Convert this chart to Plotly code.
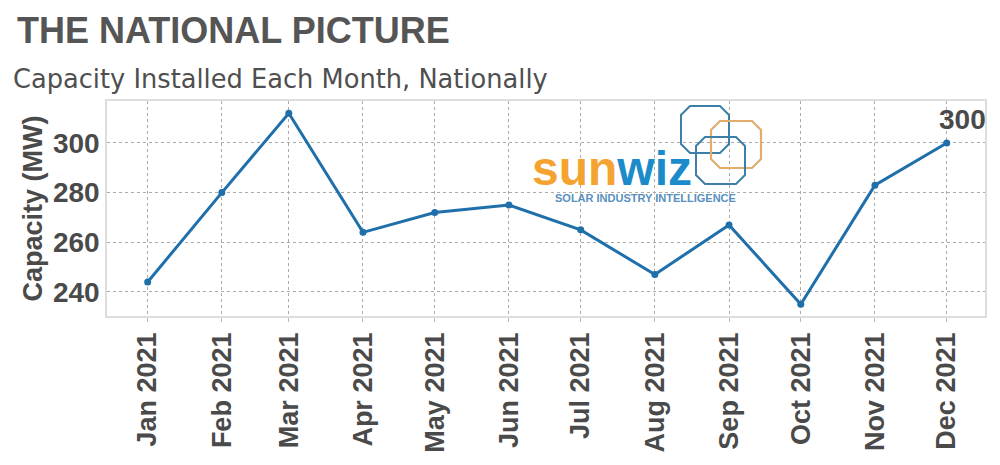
import plotly.graph_objects as go

months = ["2021-01-01", "2021-02-01", "2021-03-01", "2021-04-01", "2021-05-01", "2021-06-01",
          "2021-07-01", "2021-08-01", "2021-09-01", "2021-10-01", "2021-11-01", "2021-12-01"]
capacity = [244, 280, 312, 264, 272, 275, 265, 247, 267, 235, 283, 300]
y_ticks = [240, 260, 280, 300]

# the page body has an 8px margin, so the figure is drawn 8px in from the top-left
OFF = 8
W, H = 1000 - OFF, 465 - OFF
L, R, T, B = 107 - OFF, 15, 101 - OFF, 149
PW, PH = W - L - R, H - T - B


def px(x):
    return (x - OFF - L) / PW


def py(y):
    return (H - B - (y - OFF)) / PH


LINE = "#1f6fab"
TXT = "#4a4a4a"

fig = go.Figure()
fig.add_trace(go.Scatter(
    x=months, y=capacity, mode="lines+markers",
    line=dict(color=LINE, width=3),
    marker=dict(color=LINE, size=7),
    hoverinfo="x+y", showlegend=False,
))

shapes = []


def octagon(x0, y0, x1, y1, c, color, width):
    pts = [(x0 + c, y0), (x1 - c, y0), (x1, y0 + c), (x1, y1 - c),
           (x1 - c, y1), (x0 + c, y1), (x0, y1 - c), (x0, y0 + c)]
    d = "M " + " L ".join(f"{px(a):.5f},{py(b):.5f}" for a, b in pts) + " Z"
    shapes.append(dict(type="path", xref="paper", yref="paper", path=d,
                       line=dict(color=color, width=width), layer="above"))


octagon(681, 106, 729, 153, 9, "#3d7fa6", 2)
octagon(711, 121, 761, 168, 9, "#e3ad6e", 2.2)
octagon(696, 137, 745, 184, 9, "#3d7fa6", 2)

annotations = [
    dict(text="<b>THE NATIONAL PICTURE</b>", x=px(15), y=py(53), xref="paper", yref="paper",
         xanchor="left", yanchor="bottom", showarrow=False,
         font=dict(family="Liberation Sans, Arial", size=36, color="#555555")),
    dict(text="Capacity Installed Each Month, Nationally", x=px(11), y=py(96),
         xref="paper", yref="paper", xanchor="left", yanchor="bottom", showarrow=False,
         font=dict(family="DejaVu Sans", size=25.7, color="#4f4f4f")),
    dict(text="<b>300</b>", x=months[-1], y=capacity[-1], xref="x", yref="y",
         xanchor="center", yanchor="bottom", yshift=6, xshift=16, showarrow=False,
         font=dict(family="Liberation Sans, Arial", size=28, color=TXT)),
    dict(text="<b><span style='color:#f4a331'>sun</span><span style='color:#1b8bc9'>wiz</span></b>",
         x=px(530), y=py(197), xref="paper", yref="paper", xanchor="left", yanchor="bottom",
         showarrow=False, font=dict(family="Liberation Sans, Arial", size=48)),
    dict(text="<b>SOLAR INDUSTRY INTELLIGENCE</b>", x=px(645), y=py(198), xref="paper", yref="paper",
         xanchor="center", yanchor="middle", showarrow=False,
         font=dict(family="Liberation Sans, Arial", size=11, color="#5890c0")),
]

fig.update_layout(
    width=W, height=H,
    margin=dict(l=L, r=R, t=T, b=B),
    paper_bgcolor="white", plot_bgcolor="white",
    shapes=shapes, annotations=annotations,
    font=dict(family="Liberation Sans, Arial", color=TXT),
)
fig.update_xaxes(
    type="date", range=["2020-12-15", "2021-12-17"],
    tickvals=months, tickformat="%b %Y", tickangle=-90, automargin=False,
    tickfont=dict(size=27, color=TXT, weight="bold"),
    showgrid=True, gridcolor="#aaaaaa", griddash="dot", gridwidth=1,
    ticks="outside", ticklen=4, tickcolor="#bbbbbb",
    showline=True, linecolor="#dddddd", linewidth=1.5, mirror=True,
    zeroline=False,
)
fig.update_yaxes(
    range=[230.3, 316.9], tickvals=y_ticks, automargin=False,
    tickfont=dict(size=28, color=TXT, weight="bold"),
    title=dict(text="Capacity (MW)", font=dict(size=27, color=TXT, weight="bold"), standoff=2),
    showgrid=True, gridcolor="#aaaaaa", griddash="dot", gridwidth=1,
    ticks="", showline=True, linecolor="#dddddd", linewidth=1.5, mirror=True,
    zeroline=False,
)

fig.write_html("out.html")
